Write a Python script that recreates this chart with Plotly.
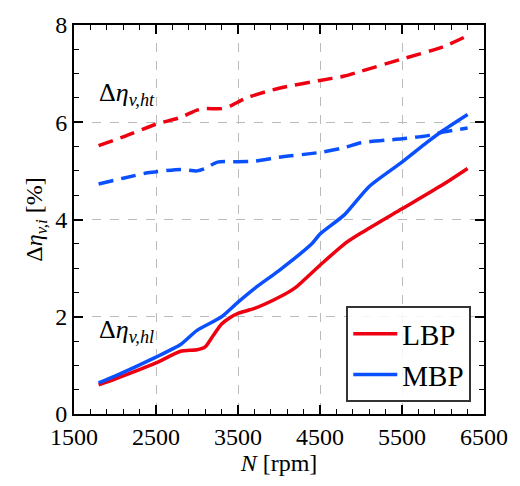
import plotly.graph_objects as go

# Data
rpm_ht_lbp = [1800, 2100, 2500, 2800, 3000, 3100, 3300, 3400, 3600, 4000, 4500, 4800, 5000, 5500, 6000, 6300]
ht_lbp = [5.52, 5.70, 5.96, 6.10, 6.25, 6.28, 6.28, 6.33, 6.50, 6.70, 6.86, 6.95, 7.05, 7.30, 7.55, 7.78]

rpm_ht_mbp = [1800, 2100, 2400, 2800, 3000, 3100, 3250, 3500, 3700, 4000, 4500, 4800, 5000, 5500, 5800, 6000, 6300]
ht_mbp = [4.73, 4.85, 4.96, 5.03, 5.00, 5.05, 5.18, 5.19, 5.20, 5.28, 5.38, 5.48, 5.58, 5.66, 5.72, 5.80, 5.88]

rpm_lbp = [1800, 2000, 2500, 2800, 3000, 3100, 3200, 3300, 3400, 3500, 3700, 4000, 4200, 4500, 4800, 5000, 5500, 6000, 6300]
lbp = [0.60, 0.72, 1.05, 1.29, 1.32, 1.38, 1.62, 1.85, 1.98, 2.07, 2.17, 2.40, 2.60, 3.06, 3.50, 3.72, 4.22, 4.72, 5.05]

rpm_mbp = [1800, 2000, 2500, 2800, 3000, 3300, 3500, 3700, 4000, 4400, 4500, 4800, 5100, 5500, 5800, 6000, 6300]
mbp = [0.64, 0.78, 1.17, 1.43, 1.72, 2.00, 2.30, 2.58, 2.95, 3.50, 3.70, 4.10, 4.68, 5.18, 5.58, 5.83, 6.16]

x_ticks = [1500, 2500, 3500, 4500, 5500, 6500]
y_ticks = [0, 2, 4, 6, 8]

RED = "#EE0010"
BLUE = "#0A50FF"
TFONT = "Liberation Serif"

fig = go.Figure()
fig.add_trace(go.Scatter(x=rpm_ht_lbp, y=ht_lbp, mode="lines", showlegend=False,
                         line=dict(color=RED, width=3.5, dash="15px,8px", shape="spline", smoothing=0.6)))
fig.add_trace(go.Scatter(x=rpm_ht_mbp, y=ht_mbp, mode="lines", showlegend=False,
                         line=dict(color=BLUE, width=3.5, dash="15px,8px", shape="spline", smoothing=0.6)))
fig.add_trace(go.Scatter(x=rpm_lbp, y=lbp, mode="lines", name="LBP",
                         line=dict(color=RED, width=3.5, shape="spline", smoothing=0.6)))
fig.add_trace(go.Scatter(x=rpm_mbp, y=mbp, mode="lines", name="MBP",
                         line=dict(color=BLUE, width=3.5, shape="spline", smoothing=0.6)))

axis_common = dict(
    showline=True, linecolor="black", linewidth=2, mirror="ticks",
    ticks="inside", ticklen=9, tickwidth=1.5, tickcolor="black",
    showgrid=True, gridcolor="#BBBBBB", gridwidth=1, griddash="dash",
    zeroline=False, tickfont=dict(family=TFONT, size=24, color="black"),
)

fig.update_xaxes(range=[1500, 6500], tickvals=x_ticks, ticktext=[str(v) for v in x_ticks],
                 minor=dict(dtick=200, tick0=1500, ticks="inside", ticklen=5, tickcolor="black", tickwidth=1.2, showgrid=False),
                 title=dict(text="<i>N</i> [rpm]", font=dict(family=TFONT, size=24, color="black"), standoff=4),
                 **axis_common)
fig.update_yaxes(range=[0, 8], tickvals=y_ticks, ticktext=[str(v) for v in y_ticks],
                 minor=dict(dtick=0.5, tick0=0, ticks="inside", ticklen=5, tickcolor="black", tickwidth=1.2, showgrid=False),
                 title=dict(text="Δ<i>η</i><sub><i>v,i</i></sub> [%]", font=dict(family=TFONT, size=24, color="black"), standoff=6),
                 **axis_common)

fig.add_annotation(x=1780, y=6.58, xref="x", yref="y", text="Δ<i>η</i><sub><i>v,ht</i></sub>",
                   showarrow=False, xanchor="left", yanchor="middle",
                   font=dict(family=TFONT, size=26, color="black"))
fig.add_annotation(x=1780, y=1.70, xref="x", yref="y", text="Δ<i>η</i><sub><i>v,hl</i></sub>",
                   showarrow=False, xanchor="left", yanchor="middle",
                   font=dict(family=TFONT, size=26, color="black"))

fig.update_layout(
    width=520, height=486,
    margin=dict(l=74, r=28, t=17, b=72),
    plot_bgcolor="white", paper_bgcolor="white",
    font=dict(family=TFONT),
    legend=dict(x=0.969, y=0.03, xanchor="right", yanchor="bottom",
                bgcolor="rgba(255,255,255,0.85)", bordercolor="#333333", borderwidth=2,
                font=dict(family=TFONT, size=29, color="black"), tracegroupgap=6,
                itemwidth=44),
)

fig.write_html("out.html")
